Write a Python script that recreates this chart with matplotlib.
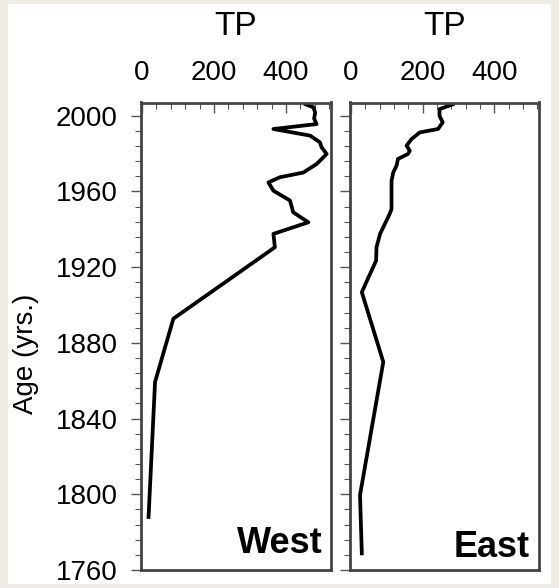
import numpy as np
import matplotlib
matplotlib.use("Agg")
import matplotlib.pyplot as plt
from matplotlib.ticker import MultipleLocator
from matplotlib.patches import Rectangle

plt.rcParams['font.family'] = ['Liberation Sans', 'DejaVu Sans']

# West core: TP profile
year_west = [2006, 2004.5, 2001.7, 1998.5, 1995.6, 1993, 1989.5, 1986, 1983.3, 1979.8,
             1974.5, 1970, 1967.5, 1964.8, 1960.4, 1955.2, 1949, 1943.7, 1937.6,
             1930.5, 1892.8, 1859.3, 1788]
tp_west = [455, 476, 481, 478, 485, 365, 467, 494, 499, 513,
           485, 448, 383, 351, 365, 411, 420, 462, 365,
           369, 87, 36, 18]

# East core
year_east = [2006, 2003.5, 2000, 1996.5, 1993, 1991.2, 1987.7, 1984.2, 1981.5, 1979.8,
             1977.2, 1973.6, 1970.1, 1965.7, 1950.8, 1948.2, 1937.6, 1930.5, 1923.5,
             1906.8, 1869.9, 1799.6, 1768.8]
tp_east = [284, 247, 247, 256, 243, 192, 169, 155, 164, 159,
           131, 127, 118, 113, 113, 108, 81, 71, 70,
           30, 90, 25, 30]

panels = ["West", "East"]
x_ticks = [0, 200, 400]
y_ticks = [1760, 1800, 1840, 1880, 1920, 1960, 2000]

W, H = 559, 588
fig = plt.figure(figsize=(W / 100, H / 100), dpi=100, facecolor='#eeece3')
fig.patches.append(Rectangle((8 / W, 4 / H), 543 / W, 580 / H, transform=fig.transFigure,
                             facecolor='white', edgecolor='none', zorder=-1))

ax1 = fig.add_axes([141 / W, 1 - 570 / H, 190 / W, 467.5 / H])
ax2 = fig.add_axes([350 / W, 1 - 570 / H, 189 / W, 467.5 / H])

data = [(tp_west, year_west), (tp_east, year_east)]
for i, ax in enumerate([ax1, ax2]):
    tp, yr = data[i]
    ax.plot(tp, yr, color='black', lw=2.7, solid_joinstyle='round')
    ax.set_xlim(-3, 525)
    ax.set_ylim(1760, 2007)
    ax.set_xticks(x_ticks)
    ax.xaxis.set_minor_locator(MultipleLocator(40))
    ax.set_yticks(y_ticks)
    ax.yaxis.set_minor_locator(MultipleLocator(8))
    ax.tick_params(axis='x', which='both', bottom=False, top=True, labelbottom=False,
                   labeltop=True, direction='in', labelsize=20, pad=12, color='#555')
    ax.tick_params(axis='x', which='major', length=7, width=1)
    ax.tick_params(axis='x', which='minor', length=4, width=0.8)
    ax.tick_params(axis='y', which='both', left=True, right=False, direction='out',
                   labelsize=20, pad=10, color='#555')
    ax.tick_params(axis='y', which='major', length=7, width=1)
    ax.tick_params(axis='y', which='minor', length=4, width=0.8)
    if i == 1:
        ax.tick_params(axis='y', labelleft=False)
    for s in ax.spines.values():
        s.set_color('#444')
        s.set_linewidth(2)
    ax.text(0.5, 1.145, 'TP', transform=ax.transAxes, ha='center', va='baseline', fontsize=24)

ax1.text(0.958, 0.036, panels[0], transform=ax1.transAxes, ha='right', va='baseline',
         fontsize=26, fontweight='bold')
ax2.text(0.952, 0.028, panels[1], transform=ax2.transAxes, ha='right', va='baseline',
         fontsize=26, fontweight='bold')

fig.text(26 / W, 1 - 354 / H, 'Age (yrs.)', rotation=90, ha='center', va='center', fontsize=20)

fig.savefig('out.png', dpi=100, facecolor=fig.get_facecolor())
